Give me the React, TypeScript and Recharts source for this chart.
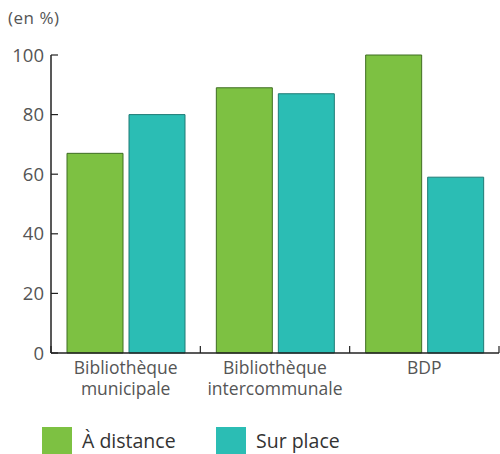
import React from 'react';
import { BarChart, Bar, XAxis, YAxis } from 'recharts';

const categories = ['Bibliothèque\nmunicipale', 'Bibliothèque\nintercommunale', 'BDP'];
const distance = [67, 89, 100];
const surPlace = [80, 87, 59];
const yTicks = [0, 20, 40, 60, 80, 100];

const data = categories.map((c, i) => ({ name: c, distance: distance[i], surPlace: surPlace[i] }));

const GREEN = '#7dc142';
const TEAL = '#2bbdb4';
const FONT = '"Open Sans", Lato, sans-serif';
const TXT = '#555';
const AXIS = '#222';

const YTick = (props: any) => {
  const { x, y, payload } = props;
  return (
    <g>
      <line x1={x + 7} x2={x + 14} y1={y} y2={y} stroke={AXIS} strokeWidth={1.2} />
      <text x={x} y={y} dy={6.5} textAnchor="end" fill={TXT} fontSize={18.5} fontFamily={FONT}>
        {payload.value}
      </text>
    </g>
  );
};

const XTick = (props: any) => {
  const { x, y, payload, index } = props;
  const half = payload.offset || 74.6;
  const lines = String(payload.value).split('\n');
  const axisY = y - 8;
  return (
    <g>
      <line x1={x - half} x2={x - half} y1={axisY} y2={axisY - 7} stroke={AXIS} strokeWidth={1.2} />
      {index === categories.length - 1 && (
        <line x1={x + half} x2={x + half} y1={axisY} y2={axisY - 7} stroke={AXIS} strokeWidth={1.2} />
      )}
      <foreignObject x={x - 80} y={y - 4} width={160} height={50}>
        <div
          style={{
            textAlign: 'center',
            lineHeight: '21px',
            fontSize: 17.5,
            color: TXT,
            fontFamily: FONT,
            whiteSpace: 'pre',
          }}
        >
          {lines.join('\n')}
        </div>
      </foreignObject>
    </g>
  );
};

export default function App() {
  return (
    <div style={{ position: 'absolute', left: 0, top: 0, width: 500, height: 454, background: '#fff', fontFamily: FONT }}>
      <div style={{ position: 'absolute', left: 8, top: 6, fontSize: 17, color: TXT, letterSpacing: 0.5 }}>(en %)</div>
      <BarChart
        width={500}
        height={454}
        data={data}
        margin={{ top: 55, right: 1, bottom: 41, left: 0 }}
        barCategoryGap={16}
        barGap={6}
      >
        <YAxis
          domain={[0, 100]}
          ticks={yTicks}
          width={51}
          tickLine={false}
          tickSize={0}
          tickMargin={7}
          axisLine={{ stroke: AXIS, strokeWidth: 1.5 }}
          tick={<YTick />}
          interval={0}
        />
        <XAxis
          dataKey="name"
          height={60}
          tickLine={false}
          tickSize={0}
          tickMargin={8}
          axisLine={{ stroke: AXIS, strokeWidth: 1.5 }}
          tick={<XTick />}
          interval={0}
        />
        <Bar dataKey="distance" fill={GREEN} stroke="#3f6e23" strokeWidth={1} isAnimationActive={false} />
        <Bar dataKey="surPlace" fill={TEAL} stroke="#1f7b75" strokeWidth={1} isAnimationActive={false} />
      </BarChart>
      <div style={{ position: 'absolute', left: 42, top: 427, display: 'flex', alignItems: 'center', fontSize: 19.5, color: '#333' }}>
        <span style={{ display: 'inline-block', width: 30, height: 27, background: GREEN, marginRight: 10 }} />
        <span style={{ width: 134 }}>À distance</span>
        <span style={{ display: 'inline-block', width: 30, height: 27, background: TEAL, marginRight: 10 }} />
        <span>Sur place</span>
      </div>
    </div>
  );
}
